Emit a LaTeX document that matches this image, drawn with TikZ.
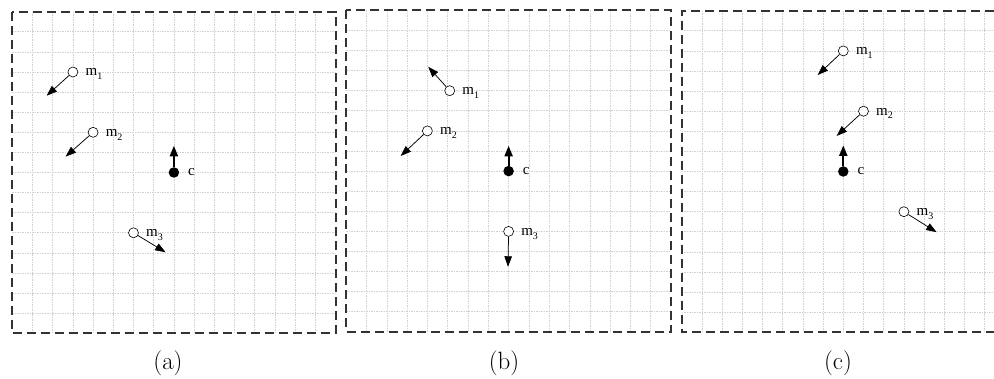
\documentclass[tikz,border=0pt]{standalone}
\usepackage{fontspec}
\newfontfamily\tf{Liberation Serif}
\usetikzlibrary{arrows.meta}
\tikzset{
  gridline/.style={draw=black!18, line width=0.6pt, dash pattern=on 1.5pt off 1pt},
  framebox/.style={draw=black!80, line width=2pt, dash pattern=on 9pt off 5pt},
  mnode/.style={circle, draw=black, fill=white, line width=0.6pt, inner sep=0pt, minimum size=10pt},
  cnode/.style={circle, fill=black, inner sep=0pt, minimum size=10.5pt},
  marrow/.style={line width=0.75pt, -{Triangle[length=10.5pt,width=7.5pt]}},
  carrow/.style={line width=1.8pt, -{Triangle[length=10.5pt,width=8pt]}},
  lab/.style={anchor=base west, inner sep=0pt, font=\tf\fontsize{15}{17}\selectfont},
  captext/.style={anchor=base, inner sep=0pt, font=\fontsize{25}{29}\selectfont}
}
\newcommand{\msub}[1]{m\raisebox{-3.8pt}{\fontsize{10}{11}\selectfont #1}}
\newcommand{\panelgrid}[1]{%
  \foreach \i in {1,...,15} {
    \draw[gridline] (\i,0) -- (\i,16);
    \draw[gridline] (0,\i) -- (#1,\i);
  }
}
\begin{document}
\begin{tikzpicture}[x=1pt,y=-1pt]
\useasboundingbox[fill=white] (0,0) rectangle (994,379);

% ---------- panel (a)
\begin{scope}[shift={(12.3,11.7)}, x=20.2pt, y=-20.1pt]
  \panelgrid{16}
  \draw[framebox] (0,0) rectangle (16,16);
  \node[mnode] (a1) at (3,3) {};
  \node[mnode] (a2) at (4,6) {};
  \node[mnode] (a3) at (6,11) {};
  \node[cnode] (ac) at (8,8) {};
  \coordinate (a1t) at (1.70,4.18);
  \coordinate (a2t) at (2.64,7.21);
  \coordinate (a3t) at (7.59,11.97);
  \coordinate (act) at (8,6.67);
  \draw[marrow] (a1) -- (a1t);
  \draw[marrow] (a2) -- (a2t);
  \draw[marrow] (a3) -- (a3t);
  \draw[carrow] (ac) -- (act);
  \node[lab] (a1l) at (a1.center) [xshift=12.5pt, yshift=-4pt] {\msub{1}};
  \node[lab] (a2l) at (a2.center) [xshift=12.5pt, yshift=-4pt] {\msub{2}};
  \node[lab] (a3l) at (a3.center) [xshift=12.5pt, yshift=-4pt] {\msub{3}};
  \node[lab] (acl) at (ac.center) [xshift=14pt, yshift=-3pt] {c};
\end{scope}
\node[captext] (capa) at (168,370) {(a)};

% ---------- panel (b)
\begin{scope}[shift={(346.2,10.3)}, x=20.3pt, y=-20.1pt]
  \panelgrid{16}
  \draw[framebox] (0,0) rectangle (16,16);
  \node[mnode] (b1) at (5.1,4) {};
  \node[mnode] (b2) at (4,6) {};
  \node[mnode] (b3) at (8,11) {};
  \node[cnode] (bc) at (8,8) {};
  \coordinate (b1t) at (4.04,2.81);
  \coordinate (b2t) at (2.68,7.25);
  \coordinate (b3t) at (7.97,12.76);
  \coordinate (bct) at (8,6.74);
  \draw[marrow] (b1) -- (b1t);
  \draw[marrow] (b2) -- (b2t);
  \draw[marrow] (b3) -- (b3t);
  \draw[carrow] (bc) -- (bct);
  \node[lab] (b1l) at (b1.center) [xshift=12.5pt, yshift=-4pt] {\msub{1}};
  \node[lab] (b2l) at (b2.center) [xshift=12.5pt, yshift=-4pt] {\msub{2}};
  \node[lab] (b3l) at (b3.center) [xshift=12.5pt, yshift=-4pt] {\msub{3}};
  \node[lab] (bcl) at (bc.center) [xshift=14pt, yshift=-3pt] {c};
\end{scope}
\node[captext] (capb) at (504,370) {(b)};

% ---------- panel (c) (its right side lies beyond the picture's edge)
\begin{scope}[shift={(681.7,10.7)}, x=20.2pt, y=-20.1pt]
  \panelgrid{15.45}
  \draw[framebox] (15.45,0) -- (0,0) -- (0,16) -- (15.45,16);
  \node[mnode] (c1) at (8,2) {};
  \node[mnode] (c2) at (9,5) {};
  \node[mnode] (c3) at (11,10) {};
  \node[cnode] (cc) at (8,8) {};
  \coordinate (c1t) at (6.73,3.2);
  \coordinate (c2t) at (7.67,6.23);
  \coordinate (c3t) at (12.62,11.02);
  \coordinate (cct) at (8,6.7);
  \draw[marrow] (c1) -- (c1t);
  \draw[marrow] (c2) -- (c2t);
  \draw[marrow] (c3) -- (c3t);
  \draw[carrow] (cc) -- (cct);
  \node[lab] (c1l) at (c1.center) [xshift=12.5pt, yshift=-4pt] {\msub{1}};
  \node[lab] (c2l) at (c2.center) [xshift=12.5pt, yshift=-4pt] {\msub{2}};
  \node[lab] (c3l) at (c3.center) [xshift=12.5pt, yshift=-4pt] {\msub{3}};
  \node[lab] (ccl) at (cc.center) [xshift=14pt, yshift=-3pt] {c};
\end{scope}
\node[captext] (capc) at (838,370) {(c)};
\end{tikzpicture}
\end{document}
